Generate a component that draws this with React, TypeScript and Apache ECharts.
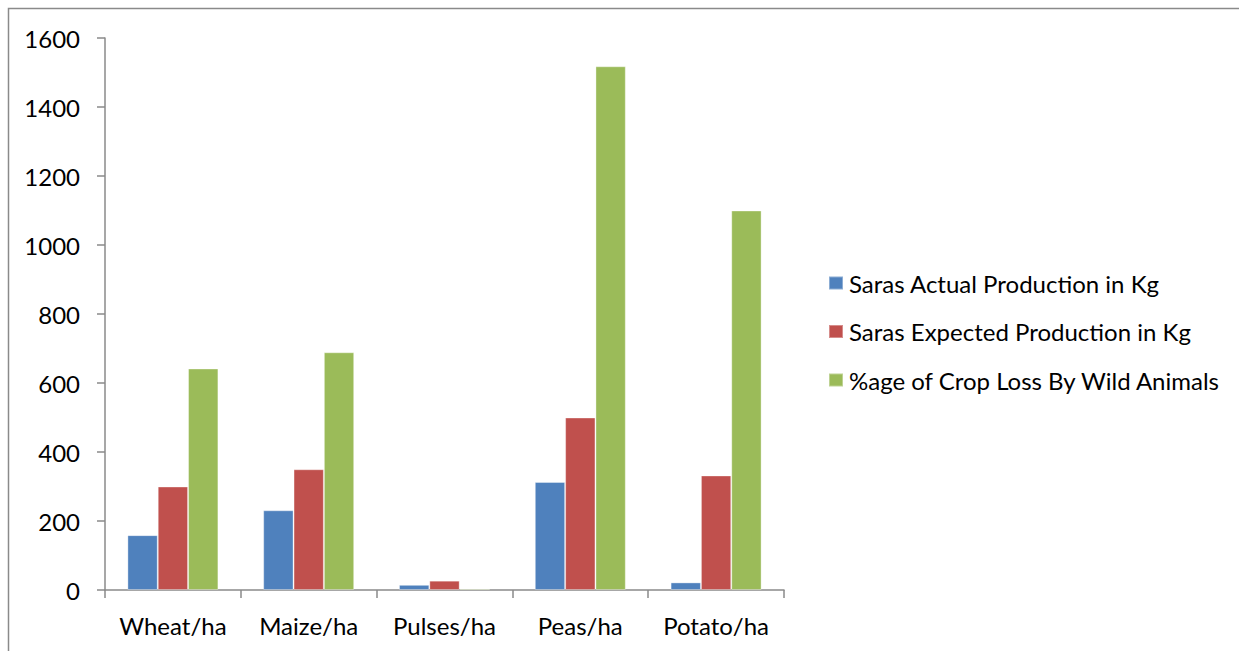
import React, { useEffect, useRef } from "react";
import * as echarts from "echarts";

const categories = ["Wheat/ha", "Maize/ha", "Pulses/ha", "Peas/ha", "Potato/ha"];
const seriesNames = [
  "Saras Actual Production in Kg",
  "Saras Expected Production in Kg",
  "%age of Crop Loss By Wild Animals",
];
const actualProduction = [159, 231, 15, 313, 22];
const expectedProduction = [300, 350, 27, 500, 332];
const cropLoss = [642, 689, 4, 1518, 1100];
const yTicks = [0, 200, 400, 600, 800, 1000, 1200, 1400, 1600];
const colors = ["#4F81BD", "#C0504D", "#9BBB59"];

const FONT = "Lato";

export default function App() {
  const ref = useRef<HTMLDivElement>(null);
  useEffect(() => {
    if (!ref.current) return;
    const chart = echarts.init(ref.current, null, { renderer: "svg" });
    const values = [actualProduction, expectedProduction, cropLoss];
    chart.setOption({
      animation: false,
      backgroundColor: "#ffffff",
      textStyle: { fontFamily: FONT },
      graphic: [
        {
          type: "rect",
          shape: { x: 8.5, y: 8.5, width: 1400, height: 800 },
          style: { fill: "none", stroke: "#8a8a8a", lineWidth: 1.5 },
          silent: true,
          z: -1,
        },
      ],
      grid: { left: 105, right: 455, top: 38, bottom: 61, containLabel: false },
      legend: {
        orient: "vertical",
        left: 828,
        top: 271,
        padding: 0,
        itemWidth: 14,
        itemHeight: 13,
        itemGap: 24.5,
        icon: "rect",
        textStyle: { fontFamily: FONT, fontSize: 24, color: "#000", lineHeight: 24, padding: [0, 0, 0, 1] },
        data: seriesNames,
      },
      xAxis: {
        type: "category",
        data: categories,
        axisLine: { lineStyle: { color: "#8a8a8a", width: 1.5 } },
        axisTick: { show: true, length: 8, lineStyle: { color: "#8a8a8a", width: 1.5 } },
        axisLabel: { color: "#000", fontFamily: FONT, fontSize: 24, margin: 23, interval: 0, hideOverlap: false },
      },
      yAxis: {
        type: "value",
        min: yTicks[0],
        max: yTicks[yTicks.length - 1],
        interval: 200,
        axisLine: { show: true, lineStyle: { color: "#8a8a8a", width: 1.5 } },
        axisTick: { show: true, length: 8, lineStyle: { color: "#8a8a8a", width: 1.5 } },
        splitLine: { show: false },
        axisLabel: {
          color: "#000",
          fontFamily: FONT,
          fontSize: 24,
          margin: 25,
          formatter: (v: number) => String(v),
        },
      },
      series: seriesNames.map((name, i) => ({
        name,
        type: "bar",
        data: values[i],
        barGap: "0%",
        barCategoryGap: "33%",
        itemStyle: { color: colors[i], borderColor: "rgba(255,255,255,0.35)", borderWidth: 1 },
      })),
    });
    return () => chart.dispose();
  }, []);
  return (
    <div
      ref={ref}
      style={{ position: "absolute", left: 0, top: 0, width: 1239, height: 651 }}
    />
  );
}
